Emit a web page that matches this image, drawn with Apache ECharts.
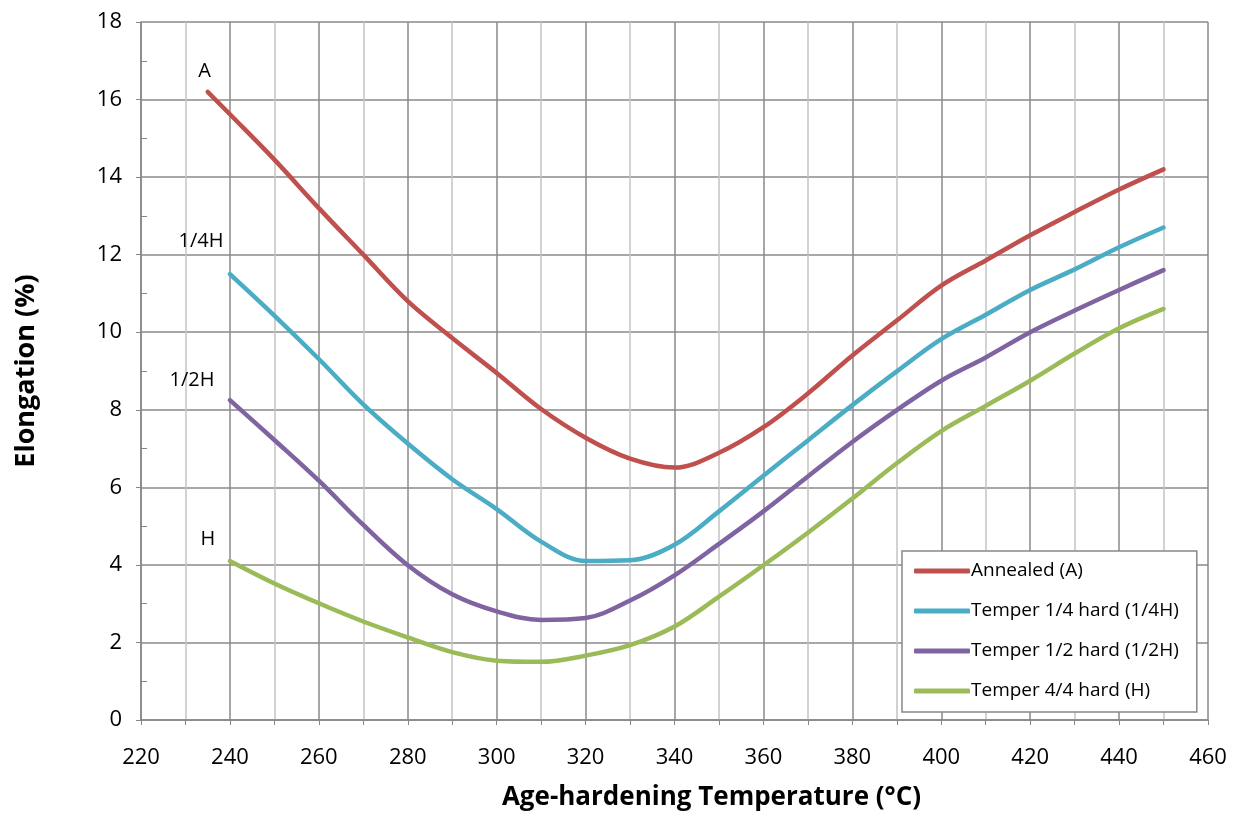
<!DOCTYPE html>
<html>
<head>
<meta charset="utf-8">
<script src="https://cdn.jsdelivr.net/npm/echarts@6/dist/echarts.min.js"></script>
<style>
html,body{margin:0;padding:0;background:#fff;}
#chart{width:1237px;height:816px;}
</style>
</head>
<body>
<div id="chart"></div>
<script>
const seriesNames = ['Annealed (A)', 'Temper 1/4 hard (1/4H)', 'Temper 1/2 hard (1/2H)', 'Temper 4/4 hard (H)'];
const curveTags = ['A', '1/4H', '1/2H', 'H'];
const tempsA = [235,240,250,260,270,280,290,300,310,320,330,340,350,360,370,380,390,400,410,420,430,440,450];
const temps = [240,250,260,270,280,290,300,310,320,330,340,350,360,370,380,390,400,410,420,430,440,450];
const annealed = [16.2,15.62,14.45,13.2,12.0,10.8,9.85,8.95,8.02,7.28,6.74,6.51,6.89,7.55,8.42,9.4,10.3,11.2,11.85,12.5,13.1,13.68,14.2];
const quarterHard = [11.5,10.43,9.31,8.14,7.13,6.21,5.44,4.6,4.1,4.12,4.52,5.38,6.3,7.21,8.12,8.99,9.82,10.45,11.09,11.62,12.19,12.7];
const halfHard = [8.25,7.22,6.17,5.03,3.99,3.24,2.8,2.58,2.63,3.08,3.73,4.54,5.38,6.28,7.17,7.99,8.75,9.35,10.0,10.56,11.09,11.6];
const fullHard = [4.1,3.52,3.01,2.54,2.13,1.75,1.53,1.5,1.66,1.93,2.41,3.18,3.99,4.83,5.71,6.62,7.45,8.1,8.75,9.45,10.1,10.6];
const colors = ['#C0504D', '#4BACC6', '#8064A2', '#9BBB59'];

const pair = (xs, ys) => xs.map((x, i) => [x, ys[i]]);
const datasets = [pair(tempsA, annealed), pair(temps, quarterHard), pair(temps, halfHard), pair(temps, fullHard)];

const chart = echarts.init(document.getElementById('chart'), null, {renderer: 'canvas'});
const FONT = 'Open Sans';
const option = {
  animation: false,
  backgroundColor: '#ffffff',
  grid: {left: 141, right: 29, top: 22, bottom: 91, containLabel: false},
  xAxis: {
    type: 'value', min: 220, max: 460, interval: 20,
    name: 'Age-hardening Temperature (°C)', nameLocation: 'middle', nameGap: 65,
    nameTextStyle: {fontFamily: FONT, fontSize: 26, fontWeight: 'bold', color: '#000', padding: [0, 0, 0, 74]},
    axisLine: {show: true, lineStyle: {color: '#868686', width: 1.5}},
    axisTick: {show: true, length: 5, lineStyle: {color: '#868686'}},
    minorTick: {show: true, splitNumber: 2, length: 5, lineStyle: {color: '#868686'}},
    axisLabel: {fontFamily: FONT, fontSize: 22, color: '#000', margin: 27},
    splitLine: {show: true, lineStyle: {color: '#8a8a8a', width: 1.5}},
    minorSplitLine: {show: true, lineStyle: {color: '#c4c4c4', width: 1.5}}
  },
  yAxis: {
    type: 'value', min: 0, max: 18, interval: 2,
    name: 'Elongation (%)', nameLocation: 'middle', nameGap: 101, nameRotate: 90,
    nameTextStyle: {fontFamily: FONT, fontSize: 27, fontWeight: 'bold', color: '#000'},
    axisLine: {show: true, lineStyle: {color: '#868686', width: 1.5}},
    axisTick: {show: true, length: 5, lineStyle: {color: '#868686'}},
    minorTick: {show: true, splitNumber: 2, length: -6, lineStyle: {color: '#868686'}},
    axisLabel: {fontFamily: FONT, fontSize: 22, color: '#000', margin: 19, padding: [6, 0, 0, 0]},
    splitLine: {show: true, lineStyle: {color: '#8a8a8a', width: 1.5}}
  },
  legend: {
    show: true, orient: 'vertical', left: 902, top: 551,
    padding: [10, 18, 11, 12],
    backgroundColor: '#ffffff',
    borderColor: '#888888', borderWidth: 1.5, borderRadius: 0,
    itemWidth: 56, itemHeight: 5, itemGap: 20,
    icon: 'roundRect',
    textStyle: {fontFamily: FONT, fontSize: 19, color: '#000', lineHeight: 20, padding: [0, 0, 0, -4]},
    data: seriesNames
  },
  series: datasets.map((d, i) => ({
    name: seriesNames[i], type: 'line', data: d,
    smooth: 0.35, showSymbol: false, symbol: 'none',
    lineStyle: {color: colors[i], width: 4.5, cap: 'round'},
    itemStyle: {color: colors[i]},
    z: 5 - i
  }))
};
chart.setOption(option);

const tagOffsets = [[-3, -21], [-29, -33], [-38, -20], [-22, -22]];
const graphics = datasets.map((d, i) => {
  const p = chart.convertToPixel({seriesIndex: i}, d[0]);
  return {
    type: 'text', x: p[0] + tagOffsets[i][0], y: p[1] + tagOffsets[i][1], z: 10,
    style: {text: curveTags[i], fontFamily: FONT, fontSize: 20, fill: '#000', align: 'center', verticalAlign: 'middle'}
  };
});
chart.setOption({graphic: graphics});
</script>
</body>
</html>
